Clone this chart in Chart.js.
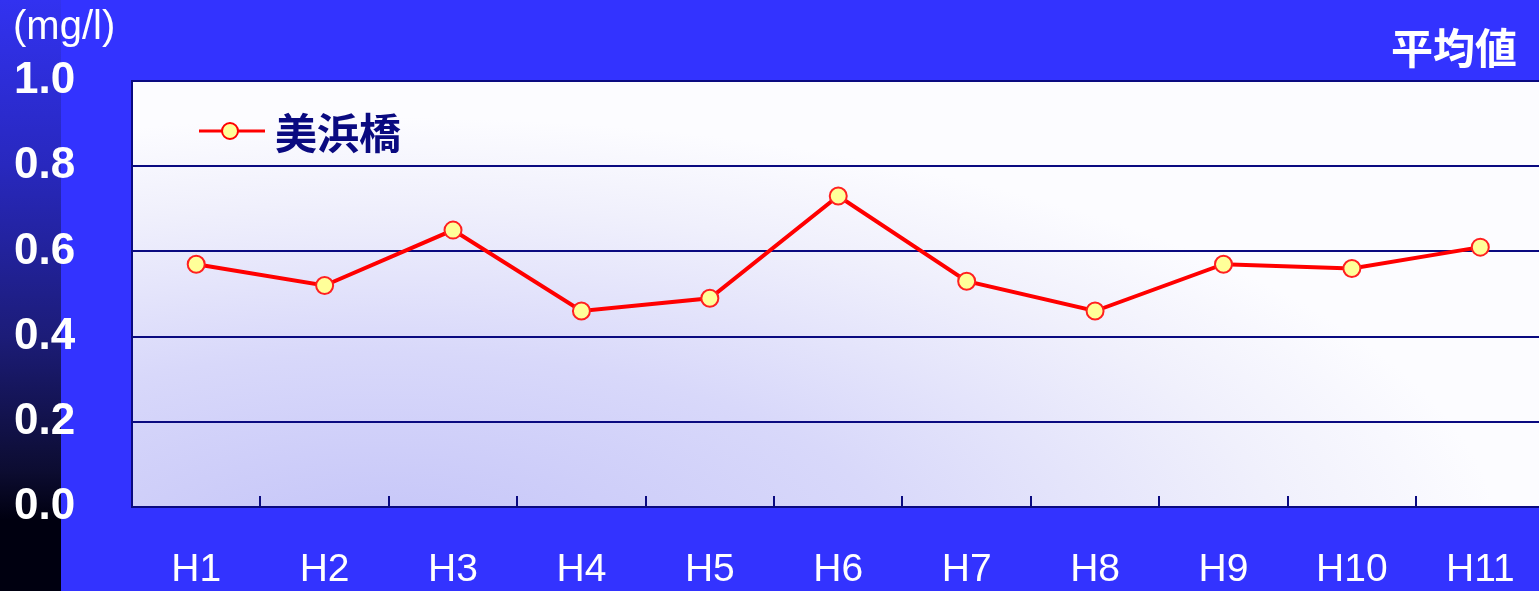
<!DOCTYPE html>
<html>
<head>
<meta charset="utf-8">
<script src="https://cdn.jsdelivr.net/npm/chart.js@4.4.1/dist/chart.umd.min.js"></script>
<style>
  html, body { margin: 0; padding: 0; background: #3333ff; overflow: hidden; }
  canvas { display: block; }
</style>
</head>
<body>
<!-- the plot runs past the right edge of the window, so the canvas is wider than it -->
<canvas id="chart" width="1555" height="591"></canvas>
<script>
// data
var years = ["H1", "H2", "H3", "H4", "H5", "H6", "H7", "H8", "H9", "H10", "H11"];
var mihamabashi = [0.57, 0.52, 0.65, 0.46, 0.49, 0.73, 0.53, 0.46, 0.57, 0.56, 0.61];
var seriesName = "美浜橋";
var unitLabel = "(mg/l)";
var cornerLabel = "平均値";
var yMin = 0, yMax = 1.0, yStep = 0.2;

var NAVY = "#0a0a80";
var CJK = "'Noto Sans CJK JP', 'Liberation Sans', sans-serif";
var LATIN = "'Liberation Sans', Arial, sans-serif";

// backgrounds: page blue, dark strip on the left, gradient in the plot area
var backdrop = {
  id: "backdrop",
  beforeDraw: function (chart) {
    var ctx = chart.ctx, a = chart.chartArea;
    ctx.save();
    ctx.fillStyle = "#3333ff";
    ctx.fillRect(0, 0, chart.width, chart.height);

    var strip = ctx.createLinearGradient(0, 0, 0, chart.height);
    strip.addColorStop(0, "#3232f0");
    strip.addColorStop(0.28, "#2828be");
    strip.addColorStop(0.57, "#1c1c78");
    strip.addColorStop(0.8, "#0c0c30");
    strip.addColorStop(0.88, "#000010");
    strip.addColorStop(1, "#000010");
    ctx.fillStyle = strip;
    ctx.fillRect(0, 0, 61, chart.height);

    // plot area: white with a lavender glow towards the lower left
    ctx.fillStyle = "#fcfcff";
    ctx.fillRect(a.left, a.top, a.width, a.height);
    ctx.beginPath();
    ctx.rect(a.left, a.top, a.width, a.height);
    ctx.clip();
    ctx.translate(a.left + 250, a.bottom + 40);
    ctx.scale(2.6, 1);
    var g = ctx.createRadialGradient(0, 0, 0, 0, 0, 430);
    g.addColorStop(0, "rgba(196,196,248,1)");
    g.addColorStop(0.45, "rgba(216,216,250,1)");
    g.addColorStop(0.8, "rgba(240,240,252,1)");
    g.addColorStop(1, "rgba(252,252,255,1)");
    ctx.fillStyle = g;
    ctx.fillRect(-a.width, -a.height * 2, a.width * 2, a.height * 3);
    ctx.restore();
  },
  // small upward ticks between categories on the x axis
  beforeDatasetsDraw: function (chart) {
    var ctx = chart.ctx, x = chart.scales.x, a = chart.chartArea;
    ctx.save();
    ctx.strokeStyle = NAVY;
    ctx.lineWidth = 2;
    for (var i = 1; i < years.length; i++) {
      var px = Math.round((x.getPixelForValue(i - 1) + x.getPixelForValue(i)) / 2);
      ctx.beginPath();
      ctx.moveTo(px, a.bottom);
      ctx.lineTo(px, a.bottom - 11);
      ctx.stroke();
    }
    ctx.restore();
  },
  afterDraw: function (chart) {
    var ctx = chart.ctx, a = chart.chartArea;
    var ds = chart.data.datasets[0];
    ctx.save();
    // unit and corner captions
    ctx.fillStyle = "#ffffff";
    ctx.textBaseline = "middle";
    ctx.font = "40px " + LATIN;
    ctx.textAlign = "left";
    ctx.fillText(unitLabel, 13, 28);
    ctx.font = "bold 42px " + CJK;
    ctx.textAlign = "right";
    ctx.fillText(cornerLabel, 1517, 48);

    // legend inside the plot
    var ly = a.top + 50, lx = a.left + 67;
    ctx.strokeStyle = ds.borderColor;
    ctx.lineWidth = 3;
    ctx.beginPath();
    ctx.moveTo(lx, ly);
    ctx.lineTo(lx + 66, ly);
    ctx.stroke();
    ctx.beginPath();
    ctx.arc(lx + 31, ly, 8, 0, Math.PI * 2);
    ctx.fillStyle = ds.pointBackgroundColor;
    ctx.fill();
    ctx.lineWidth = 2;
    ctx.stroke();
    ctx.fillStyle = NAVY;
    ctx.font = "bold 42px " + CJK;
    ctx.textAlign = "left";
    ctx.fillText(ds.label, lx + 76, ly + 2);
    ctx.restore();
  }
};

new Chart(document.getElementById("chart").getContext("2d"), {
  type: "line",
  data: {
    labels: years,
    datasets: [
      {
        label: seriesName,
        data: mihamabashi,
        borderColor: "#ff0000",
        borderWidth: 4,
        pointRadius: 8.5,
        pointHoverRadius: 8.5,
        pointBackgroundColor: "#ffff99",
        pointBorderColor: "#ff2020",
        pointBorderWidth: 2,
        tension: 0,
      },
    ],
  },
  options: {
    responsive: false,
    animation: false,
    layout: {
      padding: { left: 14, top: 81, right: 0, bottom: 0 },
    },
    scales: {
      x: {
        offset: true,
        grid: { display: false },
        border: { display: true, color: NAVY, width: 2 },
        ticks: {
          color: "#ffffff",
          padding: 32,
          maxRotation: 0,
          font: { family: LATIN, size: 39 },
        },
        afterFit: function (scale) {
          scale.height = 84;
          scale.paddingLeft = 0;
          scale.paddingRight = 0;
        },
      },
      y: {
        min: yMin,
        max: yMax,
        grid: { color: NAVY, lineWidth: 2, drawTicks: false },
        border: { display: true, color: NAVY, width: 2 },
        ticks: {
          stepSize: yStep,
          crossAlign: "far",
          color: "#ffffff",
          font: { family: LATIN, size: 44, weight: "bold" },
          callback: function (v) {
            return v.toFixed(1);
          },
        },
        afterFit: function (scale) {
          scale.width = 118;
        },
      },
    },
    plugins: {
      legend: { display: false },
      tooltip: { enabled: false },
    },
  },
  plugins: [backdrop],
});
</script>
</body>
</html>
